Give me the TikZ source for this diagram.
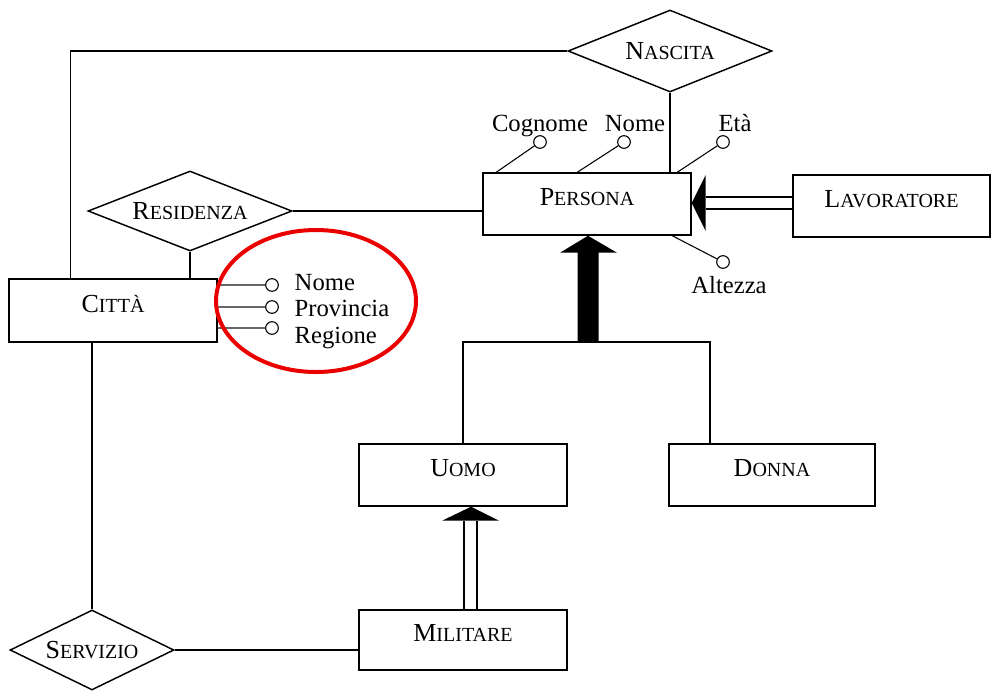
\documentclass[tikz,border=0pt]{standalone}
\usepackage{fontspec}
\setmainfont{Liberation Serif}
\usetikzlibrary{shapes.geometric,calc}
\newcommand{\fsc}[2]{{\fontsize{19.5}{20}\selectfont #1}{\fontsize{15}{16}\selectfont #2}}
\definecolor{markred}{RGB}{235,0,0}
\begin{document}
\begin{tikzpicture}[x=0.75pt,y=-0.75pt,line width=1.1pt,
  ent/.style={draw, rectangle, fill=white, minimum width=156pt, minimum height=46.5pt,
    inner sep=0pt, text height=12pt, text depth=9.5pt},
  rel/.style={draw, diamond, fill=white, shape aspect=2.5, inner sep=1pt},
  attr/.style={draw, circle, fill=white, inner sep=0pt, minimum size=9.5pt, line width=0.8pt},
  attrline/.style={line width=0.8pt},
  cattrline/.style={line width=1.5pt, draw=black!60},
  lab/.style={inner sep=0pt, font=\fontsize{18.5}{20}\selectfont}]
\useasboundingbox (0,0) rectangle (992,690);

% entities
\node[ent] (persona) at (587,204) {\fsc{P}{ERSONA}};
\node[ent, minimum width=147.75pt] (lavoratore) at (891.5,206) {\fsc{L}{AVORATORE}};
\node[ent, minimum height=47.25pt] (citta) at (113,310.5) {\fsc{C}{ITTÀ}};
\node[ent] (uomo) at (463,475) {\fsc{U}{OMO}};
\node[ent, minimum width=154.5pt] (donna) at (772,475) {\fsc{D}{ONNA}};
\node[ent, minimum height=45pt] (militare) at (463,640) {\fsc{M}{ILITARE}};

% relationships
\node[rel, minimum width=153pt, minimum height=61.5pt] (nascita) at (670,51) {\fsc{N}{ASCITA}};
\node[rel, minimum width=153pt, minimum height=60pt] (residenza) at (190,211) {\fsc{R}{ESIDENZA}};
\node[rel, minimum width=123pt, minimum height=60pt] (servizio) at (92,650) {\fsc{S}{ERVIZIO}};

% relationship links
\draw (nascita.west) -| ([xshift=46.5pt]citta.north west);
\draw (nascita.south) -- (nascita.south |- persona.north);
\draw (residenza.east) -- (residenza.east -| persona.west);
\draw (residenza.south) -- (residenza.south |- citta.north);
\draw (servizio.north) -- (servizio.north |- citta.south);
\draw (servizio.east) -- (servizio.east -| militare.west);

% generalization PERSONA -> UOMO, DONNA
\coordinate (isa) at (588,342);
\coordinate (T) at (isa |- persona.south);
\draw (uomo.north) |- (isa) -| ([xshift=-46.5pt]donna.north);
\fill ($(isa)+(-10.5,0)$) -- ($(T)+(-10.5,17)$) -- ($(T)+(-28,17)$) -- (T)
  -- ($(T)+(29,17)$) -- ($(T)+(10.5,17)$) -- ($(isa)+(10.5,0)$) -- cycle;

% MILITARE -> UOMO
\draw ($(militare.north)+(1,0)$) -- ($(uomo.south)+(1,14)$);
\draw ($(militare.north)+(14,0)$) -- ($(uomo.south)+(14,14)$);
\fill ($(uomo.south)+(8,0)$) -- ++(-29,14) -- ++(57,0) -- cycle;

% LAVORATORE -> PERSONA
\draw ($(lavoratore.west)+(0,-9)$) -- ($(persona.east)+(14,-7)$);
\draw ($(lavoratore.west)+(0,3)$) -- ($(persona.east)+(14,5)$);
\fill ($(persona.east)+(0,-1)$) -- ++(14,-28) -- ++(0,56) -- cycle;

% PERSONA attributes
\node[attr] (a1) at (540,142) {};
\node[attr] (a2) at (624,142) {};
\node[attr] (a3) at (723,142) {};
\node[attr] (a4) at (723,262) {};
\draw[attrline] ([xshift=10.5pt]persona.north west) -- (a1);
\draw[attrline] ([xshift=71.25pt]persona.north west) -- (a2);
\draw[attrline] ([xshift=146.25pt]persona.north west) -- (a3);
\draw[attrline] ([xshift=142.5pt]persona.south west) -- (a4);
\node[lab, anchor=base] (l1) at (540,131) {Cognome};
\node[lab, anchor=base] (l2) at (635,131) {Nome};
\node[lab, anchor=base] (l3) at (735,131) {Età};
\node[lab, anchor=base] (l4) at (729,293) {Altezza};

% CITTA attributes
\node[attr] (c1) at (272,285) {};
\node[attr] (c2) at (272,307) {};
\node[attr] (c3) at (272,328) {};
\draw[cattrline] (citta.east |- c1) -- (c1);
\draw[cattrline] (citta.east |- c2) -- (c2);
\draw[cattrline] (citta.east |- c3) -- (c3);
\node[lab, anchor=base west] (m1) at (294,290) {Nome};
\node[lab, anchor=base west] (m2) at (294,316) {Provincia};
\node[lab, anchor=base west] (m3) at (294,343) {Regione};

% highlight
\node[draw=markred, ellipse, line width=3pt, minimum width=150pt, minimum height=106.5pt] (mark) at (316,301) {};
\end{tikzpicture}
\end{document}
